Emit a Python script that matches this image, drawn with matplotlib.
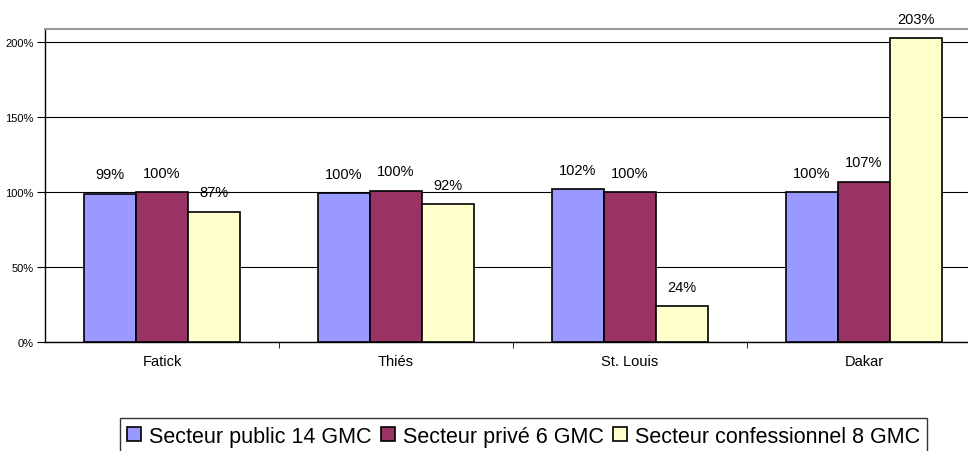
import matplotlib
matplotlib.use("Agg")
import matplotlib.pyplot as plt
import numpy as np

plt.rcParams["font.family"] = ["Liberation Sans", "DejaVu Sans"]

regions = ["Fatick", "Thiés", "St. Louis", "Dakar"]
series = ["Secteur public 14 GMC", "Secteur privé 6 GMC", "Secteur confessionnel 8 GMC"]
public = [99, 99.5, 102, 100]
prive = [100, 101, 100, 107]
confess = [87, 92, 24, 203]
public_lbl = ["99%", "100%", "102%", "100%"]
prive_lbl = ["100%", "100%", "100%", "107%"]
confess_lbl = ["87%", "92%", "24%", "203%"]
colors = ["#9999FF", "#993366", "#FFFFCC"]

fig = plt.figure(figsize=(9.68, 4.52), dpi=100)
ax = fig.add_axes([45 / 968, 109 / 452, 936 / 968, 313 / 452])

x = np.arange(len(regions))
w = 2 / 9
for i, (vals, lbls) in enumerate(zip([public, prive, confess],
                                      [public_lbl, prive_lbl, confess_lbl])):
    bars = ax.bar(x + (i - 1) * w, vals, w, color=colors[i], edgecolor="black",
                  linewidth=1.2, label=series[i], zorder=3)
    for b, t in zip(bars, lbls):
        ax.annotate(t, (b.get_x() + b.get_width() / 2, b.get_height()),
                    xytext=(0, 14), textcoords="offset points",
                    ha="center", va="center", fontsize=10.5)

ax.set_xlim(-0.5, len(regions) - 0.5)
ax.set_ylim(0, 209)
ax.set_yticks([0, 50, 100, 150, 200])
ax.set_yticklabels(["0%", "50%", "100%", "150%", "200%"], fontsize=8)
ax.yaxis.grid(True, color="black", linewidth=0.8, zorder=0)
ax.set_xticks(x)
ax.set_xticklabels(regions, fontsize=10.5)
ax.set_xticks(np.arange(0.5, len(regions) - 0.5, 1), minor=True)
ax.tick_params(axis="x", which="major", length=0, pad=9)
ax.tick_params(axis="x", which="minor", length=4, direction="out")
ax.tick_params(axis="y", length=6, direction="out", pad=2)

ax.spines["right"].set_visible(False)
ax.spines["top"].set_color("#999999")
ax.spines["top"].set_linewidth(1.5)
ax.spines["left"].set_linewidth(1)
ax.spines["bottom"].set_linewidth(1)

leg = fig.legend(loc="upper center", bbox_to_anchor=(0.541, 0.073),
                 ncol=3, frameon=True, fancybox=False, edgecolor="black",
                 handlelength=0.65, handleheight=0.65, handletextpad=0.35,
                 columnspacing=0.45, borderpad=0.35, borderaxespad=0,
                 prop={"size": 15.5})
leg.get_frame().set_linewidth(1)

fig.savefig("out.png", dpi=100)
